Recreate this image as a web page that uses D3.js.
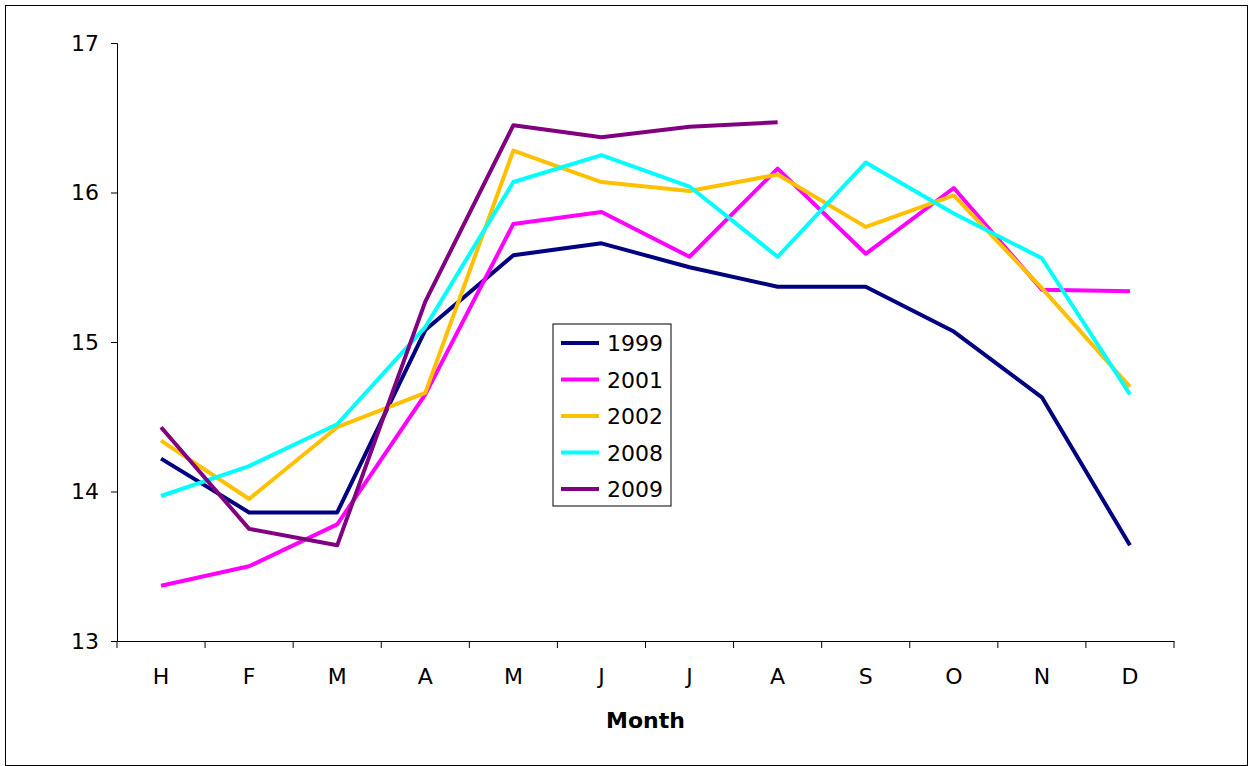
<!DOCTYPE html>
<html><head><meta charset="utf-8">
<script src="https://cdn.jsdelivr.net/npm/d3@7"></script>
<style>body{margin:0;background:#fff}text{font-family:"DejaVu Sans",Verdana,sans-serif}</style>
</head><body><div class="canvas"></div>
<script>
const months = ['H','F','M','A','M','J','J','A','S','O','N','D'];
const s1999 = [14.22,13.86,13.86,15.08,15.58,15.66,15.5,15.37,15.37,15.07,14.63,13.64];
const s2001 = [13.37,13.5,13.78,14.65,15.79,15.87,15.57,16.16,15.59,16.03,15.35,15.34];
const s2002 = [14.34,13.95,14.43,14.66,16.28,16.07,16.01,16.12,15.77,15.98,15.36,14.7];
const s2008 = [13.97,14.17,14.45,15.1,16.07,16.25,16.04,15.57,16.2,15.86,15.56,14.65];
const s2009 = [14.43,13.75,13.64,15.27,16.45,16.37,16.44,16.47];
const yTicks = [13,14,15,16,17];
const series = [
  {name:'1999',values:s1999,color:'#000080'},
  {name:'2001',values:s2001,color:'#ff00ff'},
  {name:'2002',values:s2002,color:'#ffc000'},
  {name:'2008',values:s2008,color:'#00ffff'},
  {name:'2009',values:s2009,color:'#800080'}
];

const margin = {top:43,right:74,bottom:125,left:117};
const W = 1248, H = 766;
const graphWidth = W-margin.left-margin.right;
const graphHeight = H-margin.top-margin.bottom;

const svg = d3.select('.canvas').append('svg').attr('width',W).attr('height',H);
svg.append('rect').attr('x',5.5).attr('y',5.5).attr('width',W-6).attr('height',H-6)
  .attr('fill','none').attr('stroke','#000').attr('stroke-width',1);

const graph = svg.append('g').attr('transform',`translate(${margin.left},${margin.top})`);

const x = d3.scaleBand().domain(d3.range(12)).range([0,graphWidth]);
const y = d3.scaleLinear().domain([13,17]).range([graphHeight,0]);

const yAxis = graph.append('g').call(d3.axisLeft(y).tickValues(yTicks).tickSize(6).tickPadding(12).tickFormat(d3.format('d')));
const xAxis = graph.append('g').attr('transform',`translate(0,${graphHeight})`)
  .call(d3.axisBottom(x).tickFormat(i=>months[i]).tickSize(0).tickPadding(27));
[yAxis,xAxis].forEach(a=>{a.select('.domain').attr('stroke','#000');a.selectAll('text').attr('font-size',22).attr('fill','#000').attr('font-family','"DejaVu Sans",Verdana,sans-serif');});
// category separator ticks
graph.append('g').selectAll('line').data(d3.range(13)).join('line')
  .attr('x1',i=>i*x.step()).attr('x2',i=>i*x.step())
  .attr('y1',graphHeight).attr('y2',graphHeight+7).attr('stroke','#000');

graph.append('text').attr('x',graphWidth/2).attr('y',graphHeight+87).attr('text-anchor','middle')
  .attr('font-size',22).attr('font-weight','bold').text('Month');

const line = d3.line().x((d,i)=>x(i)+x.bandwidth()/2).y(d=>y(d));
graph.selectAll('.series').data(series).join('path')
  .attr('fill','none').attr('stroke',d=>d.color).attr('stroke-width',4)
  .attr('stroke-linejoin','round').attr('d',d=>line(d.values));

const legend = svg.append('g').attr('transform','translate(553,324)');
legend.append('rect').attr('width',118).attr('height',182).attr('fill','#fff').attr('stroke','#000');
series.forEach((s,i)=>{
  const ly = 19+i*36.5;
  legend.append('line').attr('x1',8).attr('x2',46).attr('y1',ly).attr('y2',ly).attr('stroke',s.color).attr('stroke-width',4);
  legend.append('text').attr('x',54).attr('y',ly+8).attr('font-size',22).text(s.name);
});
</script></body></html>
